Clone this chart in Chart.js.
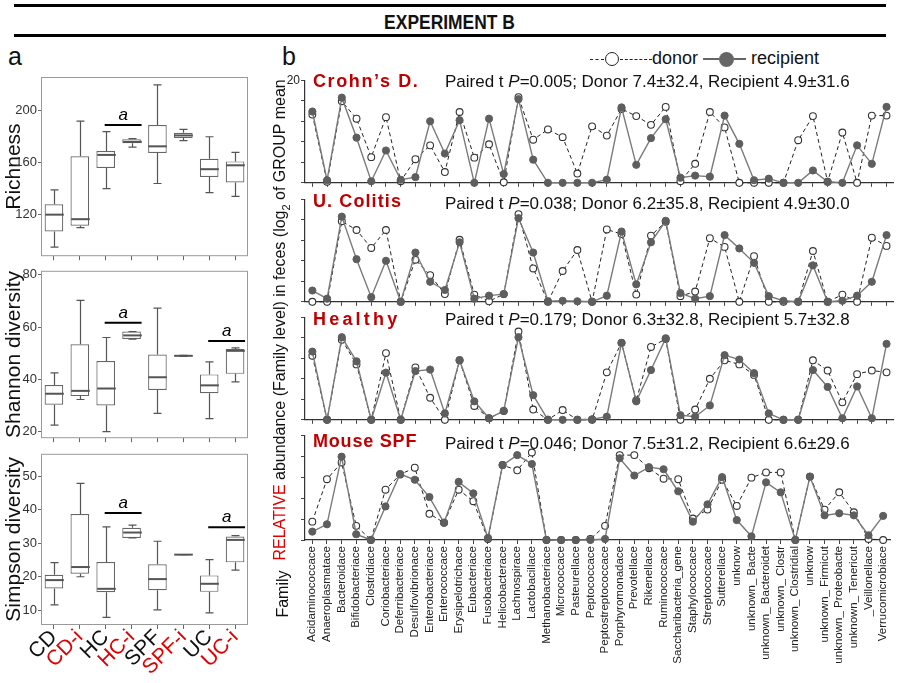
<!DOCTYPE html>
<html>
<head>
<meta charset="utf-8">
<script src="https://cdn.jsdelivr.net/npm/chart.js@4.4.1/dist/chart.umd.min.js"></script>
<style>
  body { margin: 0; width: 899px; height: 683px; position: relative; overflow: hidden; background: #fff;
         font-family: "Liberation Sans", Arial, sans-serif; color: #111; }
  .abs { position: absolute; white-space: nowrap; }
  canvas { position: absolute; }
  .ttl { font-weight: bold; font-size: 18px; color: #c00000; line-height: 18px; }
  .stat { font-size: 17px; line-height: 17px; }
</style>
</head>
<body>
<div class="abs" style="left:14px;top:4px;width:872px;height:3px;background:#000"></div>
<div class="abs" style="left:0;width:899px;top:10px;text-align:center;font-weight:bold;font-size:21px;transform:scaleX(0.83)">EXPERIMENT B</div>
<div class="abs" style="left:14px;top:34px;width:872px;height:3px;background:#000"></div>
<div class="abs" style="left:8px;top:42px;font-size:25px">a</div>
<div class="abs" style="left:282px;top:42px;font-size:25px">b</div>

<!-- legend -->
<div class="abs" style="left:590px;top:47px;height:22px;font-size:18px;line-height:22px">
  <span style="display:inline-block;width:14px;border-top:1.5px dashed #222;vertical-align:middle"></span><span style="display:inline-block;width:12px;height:12px;border:1.5px solid #222;border-radius:50%;vertical-align:middle;margin:0 1px"></span><span style="display:inline-block;width:32px;border-top:1.5px dashed #222;vertical-align:middle"></span>donor
  <span style="display:inline-block;width:16px;border-top:2px solid #666;vertical-align:middle;margin-left:0"></span><span style="display:inline-block;width:15px;height:15px;background:#666;border-radius:50%;vertical-align:middle"></span><span style="display:inline-block;width:12px;border-top:2px solid #666;vertical-align:middle"></span> recipient
</div>

<canvas id="rich" width="252" height="205" style="left:0;top:60px"></canvas>
<canvas id="shan" width="252" height="185" style="left:0;top:262px"></canvas>
<canvas id="simp" width="252" height="238" style="left:0;top:445px"></canvas>

<canvas id="p0" width="629" height="119" style="left:270px;top:72px"></canvas>
<canvas id="p1" width="629" height="119" style="left:270px;top:191px"></canvas>
<canvas id="p2" width="629" height="119" style="left:270px;top:309px"></canvas>
<canvas id="p3" width="629" height="256" style="left:270px;top:427px"></canvas>

<div class="abs ttl" style="left:313px;top:72px;letter-spacing:1.6px">Crohn’s D.</div>
<div class="abs stat" style="left:445px;top:73px">Paired t <i>P</i>=0.005; Donor 7.4±32.4, Recipient 4.9±31.6</div>
<div class="abs ttl" style="left:313px;top:192px;letter-spacing:1.1px">U. Colitis</div>
<div class="abs stat" style="left:445px;top:195px">Paired t <i>P</i>=0.038; Donor 6.2±35.8, Recipient 4.9±30.0</div>
<div class="abs ttl" style="left:313px;top:310px;letter-spacing:3.2px">Healthy</div>
<div class="abs stat" style="left:445px;top:311px">Paired t <i>P</i>=0.179; Donor 6.3±32.8, Recipient 5.7±32.8</div>
<div class="abs ttl" style="left:313px;top:432px;letter-spacing:0.8px">Mouse SPF</div>
<div class="abs stat" style="left:445px;top:435px">Paired t <i>P</i>=0.046; Donor 7.5±31.2, Recipient 6.6±29.6</div>

<div class="abs" style="left:43px;top:309px;width:480px;text-align:center;font-size:16px;line-height:18px;transform:rotate(-90deg)"><span style="color:#e00000">RELATIVE</span> abundance (Family level) in feces (log<sub style="font-size:11px">2</sub> of GROUP mean</div>
<div class="abs" style="left:253px;top:585px;width:60px;text-align:center;font-size:16px;line-height:18px;transform:rotate(-90deg)">Family</div>

<script>
// ---- panel a: box plots ----
const groups = ['CD', 'CD-i', 'HC', 'HC-i', 'SPF', 'SPF-i', 'UC', 'UC-i'];
const groupColors = ['#111', '#e00000', '#111', '#e00000', '#111', '#e00000', '#111', '#e00000'];

const richLow  = [95, 110, 140, 172, 144, 177, 137, 134];
const richQ1   = [107, 111.5, 156, 175, 167.5, 179, 149, 144.7];
const richMed  = [120, 116.5, 166, 176, 172.6, 181, 155, 158];
const richQ3   = [128, 165, 169, 178, 189, 183, 163, 161];
const richHigh = [139, 192, 184, 178.5, 220, 185.7, 180, 168];
const richTicks = [120, 160, 200];

const shanLow  = [22.5, 32.3, 20, 55.4, 27, 48.8, 25, 39];
const shanQ1   = [30.3, 33.6, 30, 55.4, 35.9, 48.8, 34.7, 42.1];
const shanMed  = [34.5, 35.6, 36.5, 56.8, 40.8, 49, 37.7, 50.9];
const shanQ3   = [37.8, 53.4, 47, 58.3, 49.5, 49.2, 41.9, 51.6];
const shanHigh = [42.5, 70.2, 56, 58.3, 67.2, 49.2, 46.7, 52];
const shanTicks = [20, 40, 60, 80];

const simpLow  = [11.6, 20, 7.9, 31.6, 10.1, 26.6, 9.2, 22];
const simpQ1   = [16.5, 20.9, 15.4, 31.6, 16, 26.6, 15.5, 24.3];
const simpMed  = [19, 22.9, 16.4, 33.2, 19.3, 26.6, 17.9, 31];
const simpQ3   = [20.6, 38.7, 24.4, 34.6, 23.7, 26.6, 20.4, 32];
const simpHigh = [24.2, 47.9, 34.9, 35.4, 30.6, 26.6, 25.1, 32.3];
const simpTicks = [10, 20, 30, 40, 50];

// significance bars: [from, to, value]
const richSig = [[2, 3, 189]];
const shanSig = [[2, 3, 61.6], [6, 7, 54.7]];
const simpSig = [[2, 3, 39], [6, 7, 34.8]];

const boxPlugin = {
  id: 'boxes',
  beforeDatasetsDraw(chart) {
    const a = chart.chartArea, ctx = chart.ctx;
    ctx.save();
    ctx.strokeStyle = '#9a9a9a';
    ctx.lineWidth = 1;
    ctx.strokeRect(a.left + 0.5, a.top + 0.5, a.width - 1, a.height - 1);
    ctx.restore();
  },
  afterDatasetsDraw(chart, args, opts) {
    const ctx = chart.ctx, x = chart.scales.x, y = chart.scales.y;
    const meta = chart.getDatasetMeta(0);
    ctx.save();
    ctx.strokeStyle = '#555';
    opts.low.forEach((lo, i) => {
      const cx = Math.round(x.getPixelForValue(i)) + 0.5;
      const w = meta.data[i].width;
      ctx.lineWidth = 1.2;
      ctx.beginPath();
      ctx.moveTo(cx, y.getPixelForValue(opts.high[i]));
      ctx.lineTo(cx, y.getPixelForValue(opts.q3[i]));
      ctx.moveTo(cx, y.getPixelForValue(opts.q1[i]));
      ctx.lineTo(cx, y.getPixelForValue(lo));
      ctx.moveTo(cx - 4, y.getPixelForValue(opts.high[i]));
      ctx.lineTo(cx + 4, y.getPixelForValue(opts.high[i]));
      ctx.moveTo(cx - 4, y.getPixelForValue(lo));
      ctx.lineTo(cx + 4, y.getPixelForValue(lo));
      ctx.stroke();
      ctx.lineWidth = 2;
      ctx.beginPath();
      ctx.moveTo(cx - w / 2, y.getPixelForValue(opts.med[i]));
      ctx.lineTo(cx + w / 2, y.getPixelForValue(opts.med[i]));
      ctx.stroke();
    });
    ctx.strokeStyle = '#000';
    ctx.fillStyle = '#000';
    ctx.lineWidth = 2;
    ctx.font = 'italic 17px "Liberation Sans", Arial';
    ctx.textAlign = 'center';
    opts.sig.forEach(([i, j, v]) => {
      const x0 = x.getPixelForValue(i) - 1, x1 = x.getPixelForValue(j) + 10, py = y.getPixelForValue(v);
      ctx.beginPath();
      ctx.moveTo(x0, py);
      ctx.lineTo(x1, py);
      ctx.stroke();
      ctx.fillText('a', (x0 + x1) / 2, py - 5);
    });
    ctx.restore();
  }
};

function boxChart(id, title, low, q1, med, q3, high, ticks, sig, yMin, yMax, padTop, xHeight, showLabels) {
  new Chart(document.getElementById(id), {
    type: 'bar',
    data: {
      labels: groups,
      datasets: [{
        data: q1.map((v, i) => [v, q3[i]]),
        backgroundColor: '#fff',
        borderColor: '#666',
        borderWidth: 1.2,
        borderSkipped: false,
        barPercentage: 0.72,
        categoryPercentage: 1
      }]
    },
    options: {
      responsive: false,
      animation: false,
      layout: { padding: { top: padTop, right: 4, left: 0, bottom: 0 } },
      plugins: {
        legend: { display: false },
        tooltip: { enabled: false },
        boxes: { low, q1, med, q3, high, sig }
      },
      scales: {
        x: {
          grid: { display: true, drawOnChartArea: false, offset: false, tickLength: 4, color: '#666' },
          border: { display: false },
          ticks: {
            display: showLabels, autoSkip: false, minRotation: 45, maxRotation: 45, padding: -4,
            color: c => groupColors[c.index], font: { size: 21, family: '"Liberation Sans", Arial' }
          },
          afterFit: s => { s.height = xHeight; }
        },
        y: {
          min: yMin, max: yMax,
          grid: { display: true, drawOnChartArea: false, tickLength: 3, color: '#666' },
          border: { display: false },
          afterBuildTicks: s => { s.ticks = ticks.map(v => ({ value: v })); },
          ticks: { color: '#333', padding: 1, font: { size: 13, family: '"Liberation Sans", Arial' } },
          title: { display: true, text: title, color: '#111', padding: { top: 2, bottom: 0 },
                   font: { size: 21, family: '"Liberation Sans", Arial' } },
          afterFit: s => { s.width = 41; }
        }
      }
    },
    plugins: [boxPlugin]
  });
}

boxChart('rich', 'Richness', richLow, richQ1, richMed, richQ3, richHigh, richTicks, richSig, 88, 226, 17, 5, false);
boxChart('shan', 'Shannon diversity', shanLow, shanQ1, shanMed, shanQ3, shanHigh, shanTicks, shanSig, 17.5, 81.5, 6, 5, false);
boxChart('simp', 'Simpson diversity', simpLow, simpQ1, simpMed, simpQ3, simpHigh, simpTicks, simpSig, 5.6, 56.7, 3, 58, true);

// ---- panel b: family profiles ----
const families = ['Acidaminococcace', 'Anaeroplasmatace', 'Bacteroidace', 'Bifidobacteriace', 'Clostridiace',
  'Coriobacteriace', 'Deferribacteriace', 'Desulfovibrionace', 'Enterobacteriace', 'Enterococcace',
  'Erysipelotrichace', 'Eubacteriace', 'Fusobacteriace', 'Helicobacterace', 'Lachnospirace',
  'Lactobacillace', 'Methanobacteriace', 'Micrococcace', 'Pasteurellace', 'Peptococcace',
  'Peptostreptococcace', 'Porphyromonadace', 'Prevotellace', 'Rikenellace', 'Ruminococcace',
  'Saccharibacteria_gene', 'Staphylococcace', 'Streptococcace', 'Sutterellace', 'unknow',
  'unknown_ Bacte', 'unknown_ Bacteroidet', 'unknown_ Clostr', 'unknown_ Clostridial', 'unknow',
  'unknown_ Firmicut', 'unknown_ Proteobacte', 'unknown_ Tenericut', '_Veillonellace', 'Verrucomicrobiace'];

const crohnDonor = [13.3, 0.2, 15.9, 12.5, 5.0, 12.8, 0.3, 4.6, 7.3, 2.1, 13.8, 4.9, 7.5, 0.1, 16.7, 8.4, 10.4, 8.9, 1.8, 11.0,
  9.2, 14.4, 13.0, 11.3, 14.8, 0.3, 3.7, 13.8, 10.8, 0, 0, 0, 0, 8.3, 13.0, 0.2, 9.8, 0, 13.1, 13.1];
const crohnRecipient = [13.9, 0.5, 16.6, 8.8, 0.3, 6.3, 0.6, 1.1, 12.0, 5.7, 12.2, 0, 12.5, 1.7, 16.3, 4.5, 0, 0, 0, 0,
  0.6, 14.7, 3.5, 8.7, 12.4, 1.0, 1.4, 1.2, 13.1, 7.6, 0.5, 0.8, 0, 0, 2.4, 0.2, 0, 7.3, 3.7, 14.8];
const ucDonor = [0, 0, 15.7, 14.0, 10.5, 14.0, 0, 8.2, 5.2, 1.5, 12.1, 1.4, 0.1, 1.5, 17.1, 6.5, 0, 6.0, 10.1, 0,
  14.1, 13.2, 1.4, 12.9, 15.6, 1.1, 2.0, 12.4, 10.7, 0, 8.9, 0, 0, 0, 9.9, 0, 1.4, 0, 12.5, 10.9];
const ucRecipient = [2.2, 0.6, 16.6, 8.3, 0.9, 8.0, 0, 9.6, 3.9, 2.3, 11.6, 0.6, 1.2, 1.5, 16.3, 9.6, 0.1, 0.2, 0.1, 0,
  1.2, 13.7, 3.4, 11.6, 15.8, 1.7, 0.6, 1.1, 13.0, 10.4, 7.6, 1.1, 0.2, 0, 7.1, 0, 0.2, 1.2, 3.9, 13.0];
const healthyDonor = [12.5, 0, 15.6, 10.8, 0, 13.0, 0, 10.2, 4.3, 0, 11.6, 2.7, 0.3, 1.7, 17.2, 2.0, 0, 1.9, 0, 0,
  9.25, 15.0, 3.75, 14.2, 15.75, 0, 2.0, 8.0, 11.6, 10.8, 8.75, 0, 0, 0, 11.6, 9.6, 3.4, 8.9, 9.6, 9.25];
const healthyRecipient = [13.3, 0, 16.1, 11.4, 0, 9.2, 0, 9.5, 9.8, 1.25, 11.6, 3.6, 0.3, 1.75, 16.1, 4.8, 0, 0, 0, 0.1,
  0.6, 15.0, 3.6, 9.7, 15.9, 0.9, 0.6, 2.8, 12.6, 11.75, 9.1, 1.25, 0, 0, 9.7, 6.4, 0.3, 6.5, 0.3, 14.8];
const spfDonor = [3.5, 11.6, 14.8, 2.7, 0, 9.6, 12.5, 13.8, 5.0, 3.3, 9.6, 7.4, 0.2, 14.3, 13.3, 16.7, 0, 0, 0, 0.2,
  2.7, 16.2, 16.2, 13.7, 11.7, 11.6, 4.1, 5.8, 11.5, 6.5, 11.9, 12.9, 12.9, 0, 12.1, 5.8, 9.1, 5.3, 0.2, 0];
const spfRecipient = [1.6, 3.0, 15.9, 1.1, 0, 6.4, 12.6, 11.5, 8.2, 3.3, 11.1, 8.9, 0.4, 14.3, 16.2, 14.5, 0, 0, 0, 0,
  0.2, 15.6, 12.3, 13.9, 13.5, 9.3, 3.5, 6.8, 12.0, 3.8, 0.7, 11.0, 9.1, 0, 12.1, 4.7, 5.1, 4.7, 0.9, 4.6];

const panels = [
  ['p0', crohnDonor, crohnRecipient],
  ['p1', ucDonor, ucRecipient],
  ['p2', healthyDonor, healthyRecipient],
  ['p3', spfDonor, spfRecipient]
];

panels.forEach(([id, donor, recipient], p) => {
  const last = p === panels.length - 1;
  new Chart(document.getElementById(id), {
    type: 'line',
    data: {
      labels: families,
      datasets: [
        {
          label: 'recipient',
          data: recipient,
          borderColor: '#7a7a7a',
          borderWidth: 1.4,
          pointRadius: 3.6,
          pointBackgroundColor: '#5e5e5e',
          pointBorderColor: '#5e5e5e',
          pointBorderWidth: 1,
          tension: 0,
          clip: false
        },
        {
          label: 'donor',
          data: donor,
          borderColor: '#222',
          borderWidth: 1,
          borderDash: [4, 3],
          pointRadius: 3.4,
          pointBackgroundColor: '#fff',
          pointBorderColor: '#333',
          pointBorderWidth: 1.1,
          tension: 0,
          clip: false
        }
      ]
    },
    options: {
      responsive: false,
      animation: false,
      layout: { padding: { top: 5, right: 1, left: 0, bottom: 0 } },
      plugins: { legend: { display: false }, tooltip: { enabled: false } },
      scales: {
        x: {
          offset: true,
          grid: { display: true, drawOnChartArea: false, offset: false, tickLength: 4, color: '#444' },
          border: { display: true, color: '#333', width: 1.2 },
          ticks: {
            display: last, autoSkip: false, minRotation: 90, maxRotation: 90, padding: 2,
            color: '#222', font: { size: 11.5, family: '"Liberation Sans", Arial' }
          },
          afterFit: s => { s.height = last ? 143 : 6; }
        },
        y: {
          min: 0, max: 20,
          grid: { display: true, drawOnChartArea: false, tickLength: 4, color: '#444' },
          border: { display: true, color: '#333', width: 1.2 },
          ticks: {
            stepSize: 2, padding: 1, color: '#222', font: { size: 12, family: '"Liberation Sans", Arial' },
            callback: v => (p === 0 && v === 20 ? '20' : '')
          },
          afterFit: s => { s.width = 35; }
        }
      }
    }
  });
});
</script>
</body>
</html>
